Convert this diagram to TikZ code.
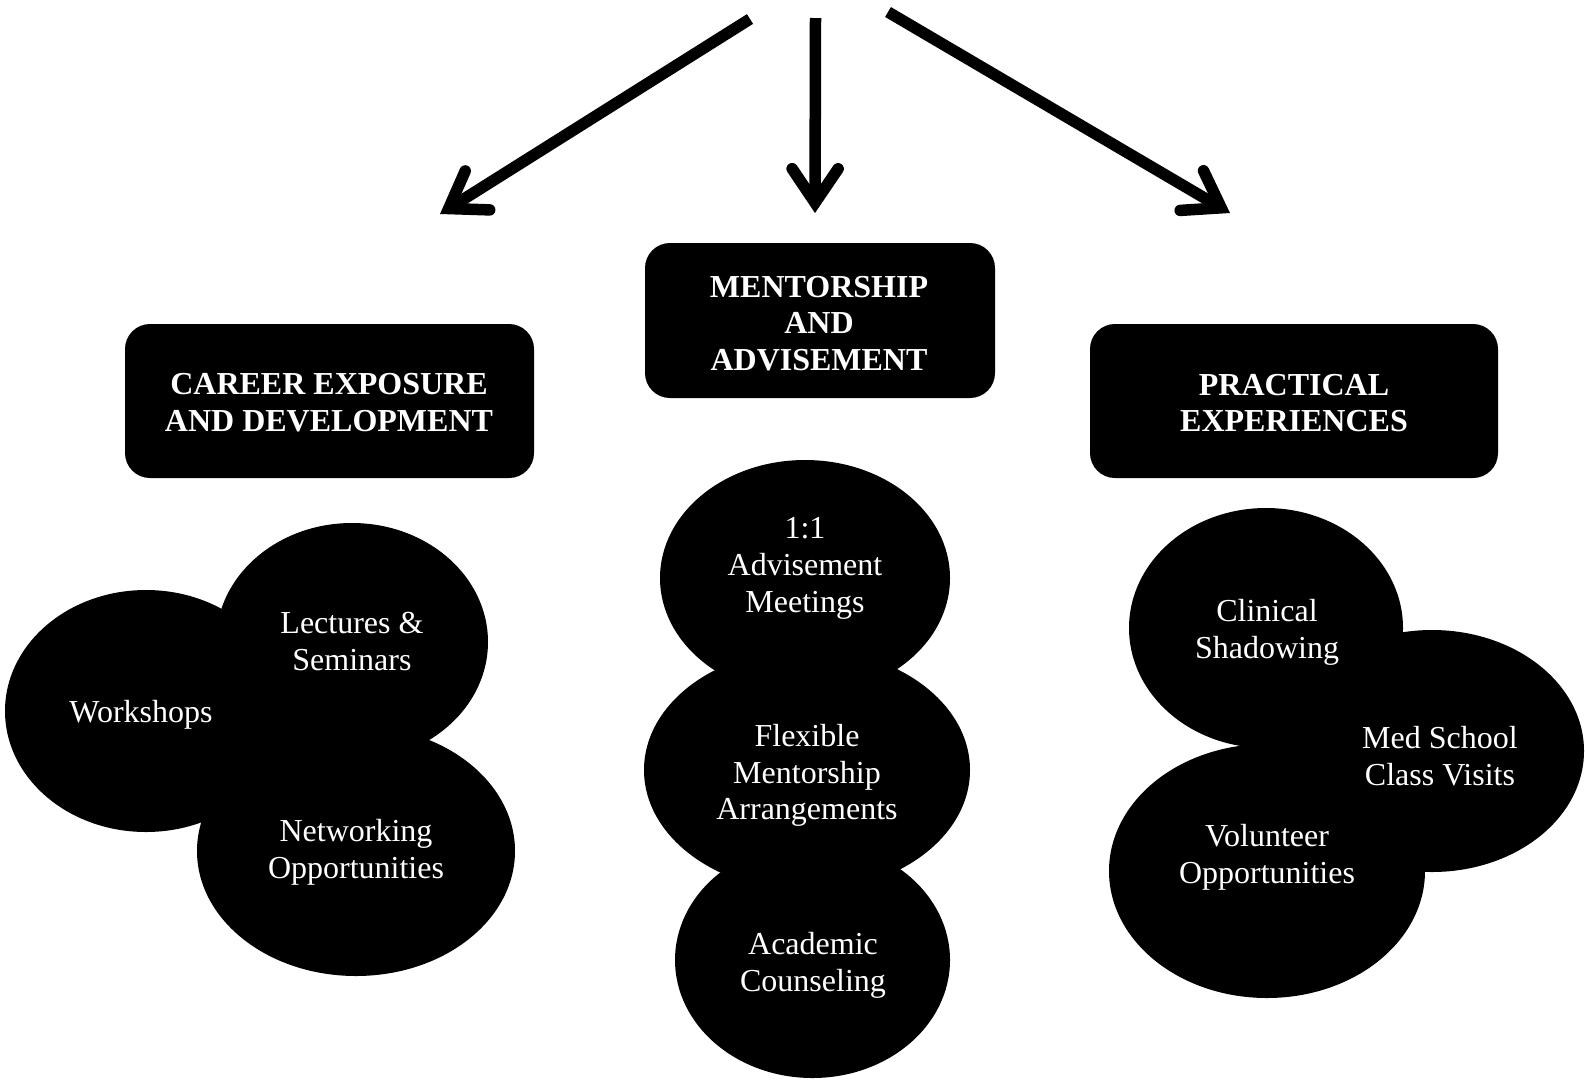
\documentclass[tikz,border=0pt]{standalone}
\usepackage{fontspec}
\setmainfont{Liberation Serif}
\usetikzlibrary{shapes.geometric,arrows.meta}
\begin{document}
\begin{tikzpicture}[x=1pt,y=-1pt,
  blob/.style={ellipse, fill=black, draw=none, inner sep=0pt, outer sep=0pt},
  hbox/.style={rectangle, rounded corners=25pt, fill=black, draw=none, inner sep=0pt},
  lbl/.style={text=white, align=center, font=\fontsize{32}{36.8}\selectfont, inner sep=0pt},
  hlbl/.style={text=white, align=center, font=\fontsize{32}{36.8}\selectfont\bfseries, inner sep=0pt},
  bigarrow/.style={line width=11.5pt, -{Straight Barb[length=34pt,width=46pt,line cap=round,line join=miter]}}
]
\useasboundingbox (0,0) rectangle (1585,1080);

% arrows
\coordinate (lS) at (750,19);
\coordinate (lE) at (440,214);
\coordinate (mS) at (815.5,18);
\coordinate (mE) at (815,213);
\coordinate (rS) at (888,12);
\coordinate (rE) at (1230,213);
\draw[bigarrow] (lS) -- (lE);
\draw[bigarrow] (mS) -- (mE);
\draw[bigarrow] (rS) -- (rE);

% header boxes
\node[hbox, minimum width=409pt, minimum height=154pt] (hL) at (329.5,401) {};
\node[hbox, minimum width=350pt, minimum height=155pt] (hM) at (820,320.5) {};
\node[hbox, minimum width=408pt, minimum height=154pt] (hR) at (1294,401) {};
\node[hlbl] (tL) at (329,403) {CAREER EXPOSURE\\AND DEVELOPMENT};
\node[hlbl] (tM) at (819,323.5) {MENTORSHIP\\AND\\ADVISEMENT};
\node[hlbl] (tR) at (1294,403) {PRACTICAL\\EXPERIENCES};

% left group
\node[blob, minimum width=282pt, minimum height=242pt] (ws) at (146,711) {};
\node[blob, minimum width=272pt, minimum height=238pt] (lec) at (352,642) {};
\node[blob, minimum width=318pt, minimum height=250pt] (net) at (356,851) {};
\node[lbl] (tws) at (141,714.5) {Workshops};
\node[lbl] (tlec) at (352,641.5) {Lectures \&\\Seminars};
\node[lbl] (tnet) at (356,852.5) {Networking\\Opportunities};

% middle group
\node[blob, minimum width=290pt, minimum height=236pt] (adv) at (805,578) {};
\node[blob, minimum width=326pt, minimum height=242pt] (flex) at (807,770) {};
\node[blob, minimum width=275pt, minimum height=236pt] (acad) at (812.5,960) {};
\node[lbl] (tadv) at (805,568.5) {1:1\\Advisement\\Meetings};
\node[lbl] (tflex) at (807,775.5) {Flexible\\Mentorship\\Arrangements};
\node[lbl] (tacad) at (813,965) {Academic\\Counseling};

% right group
\node[blob, minimum width=274pt, minimum height=240pt] (clin) at (1266,628) {};
\node[blob, minimum width=304pt, minimum height=242pt] (med) at (1432,751) {};
\node[blob, minimum width=316pt, minimum height=254pt] (vol) at (1267,871) {};
\node[lbl] (tclin) at (1267,632.5) {Clinical\\Shadowing};
\node[lbl] (tmed) at (1440,756.5) {Med School\\Class Visits};
\node[lbl] (tvol) at (1267,857.5) {Volunteer\\Opportunities};
\end{tikzpicture}
\end{document}
